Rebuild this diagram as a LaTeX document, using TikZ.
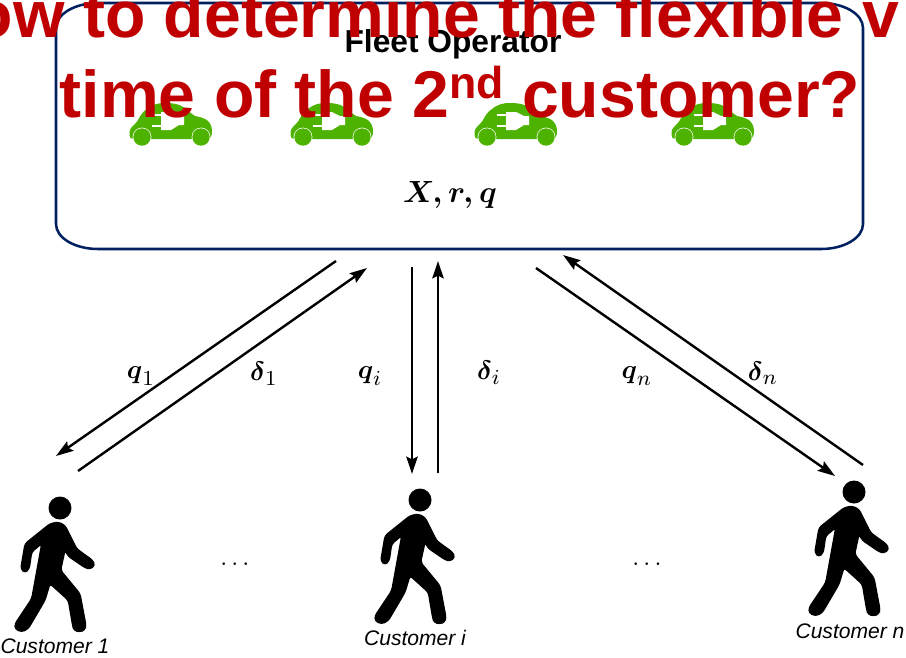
\documentclass[tikz,border=0pt]{standalone}
\usepackage{amsmath,amssymb}
\usepackage{graphicx}
\usepackage{fontspec}
\setmainfont{Liberation Sans}
\usetikzlibrary{arrows.meta}
\DeclareMathSizes{10}{10}{8}{6}
\definecolor{navy}{RGB}{0,32,96}
\definecolor{carg}{RGB}{78,178,0}
\definecolor{redt}{RGB}{192,0,0}
\newcommand{\biglab}[1]{\scalebox{2}{$#1$}}
\tikzset{
  x=0.75pt,y=-0.75pt,
  flow/.style={line width=1.8pt,-{Stealth[length=13pt,width=8.5pt,inset=2pt]}},
  lab/.style={inner sep=0pt},
  cust/.style={inner sep=0pt,font=\fontsize{15.8}{18}\selectfont\itshape},
  title/.style={inner sep=0pt,text=redt,font=\fontsize{49.6}{60}\selectfont\bfseries},
  pics/car/.style={code={
    \fill[carg] (0.5,32) .. controls (0.5,28) and (1,26) .. (2,25) .. controls (5,22) and (8,19) .. (9,17)
      .. controls (12,11) and (15,8) .. (18,6) .. controls (24,1) and (30,0) .. (36,0)
      .. controls (44,0) and (50,1) .. (54,4) .. controls (59,8) and (63,11) .. (66,13)
      .. controls (72,14) and (77,16) .. (79,18) .. controls (82,21) and (83,25) .. (83,28)
      .. controls (83,32) and (82,36) .. (79,36) -- (5,36) .. controls (2,36) and (0.5,35) .. (0.5,32) -- cycle;
    \fill[white] (32,9) -- (42,9) -- (50,13) -- (55,13) -- (55,22) -- (50,22) -- (42,27) -- (32,27) -- cycle;
    \fill[white] (23,11.2) rectangle (33,12.8) (23,22.2) rectangle (33,23.8);
    \fill[white] (13,34) circle[radius=9.4] (72,34) circle[radius=9.4];
    \fill[carg] (13,34) circle[radius=8.7] (72,34) circle[radius=8.7];
  }},
  pics/walker/.style={code={
    \fill (0,0) circle[radius=11.5];
    \filldraw[line width=0.9pt,line join=round,rounded corners=2.2pt] (-10,15.7) -- (-1.7,14) -- (5,17.3) -- (16.7,40.7) -- (32.7,52.3) -- (35,57.3) -- (30,61.3)
      -- (25,59.7) -- (8.3,48.3) -- (5,42.3) -- (0.7,62.3) -- (20,85.7) -- (26,117.3) -- (25,122) -- (20,124) -- (14,122.5) -- (12.7,118)
      -- (8.3,92.3) -- (-10,75.7) -- (-15,92.3) -- (-31.7,120.7) -- (-38.3,124) -- (-45,121) -- (-45,115.7) -- (-28.3,90.7)
      -- (-18.3,35.7) -- (-28.3,44) -- (-30.7,60.7) -- (-35,65) -- (-39.3,60.7) -- (-35,35.7) -- cycle;
  }}
}
\begin{document}
\begin{tikzpicture}
\useasboundingbox (0,0) rectangle (906,657);
\clip (0,0) rectangle (906,657);
\fill[white] (0,0) rectangle (906,657);
\draw[navy,line width=1.9pt] (98,3) -- (821,3)
  .. controls (844,3) and (863,14) .. (863,28) -- (863,224)
  .. controls (863,238) and (844,249) .. (821,249) -- (98,249)
  .. controls (75,249) and (56,238) .. (56,224) -- (56,28)
  .. controls (56,14) and (75,3) .. (98,3) -- cycle;
\node[inner sep=0pt,anchor=base,font=\fontsize{23.8}{28}\selectfont\bfseries] (fleetlabel) at (453,52) {Fleet Operator};
\pic at (129,103) {car};
\pic at (290,103) {car};
\pic at (474,103) {car};
\pic at (671,103) {car};
\node[lab] (state) at (450,195) {\scalebox{2.3}{$\boldsymbol{X,r,q}$}};

\coordinate (a1) at (336,261); \coordinate (a2) at (56,456);
\coordinate (b1) at (78,471);  \coordinate (b2) at (367,268);
\coordinate (c1) at (412,267); \coordinate (c2) at (412,474);
\coordinate (d1) at (438,473); \coordinate (d2) at (438,261);
\coordinate (e1) at (536,268); \coordinate (e2) at (835,476);
\coordinate (f1) at (863,465); \coordinate (f2) at (563,255);
\draw[flow] (a1) -- (a2);
\draw[flow] (b1) -- (b2);
\draw[flow] (c1) -- (c2);
\draw[flow] (d1) -- (d2);
\draw[flow] (e1) -- (e2);
\draw[flow] (f1) -- (f2);
\node[lab] (q1) at (141,376) {\biglab{\boldsymbol{q}_1}};
\node[lab] (d1l) at (264,374) {\biglab{\boldsymbol{\delta}_1}};
\node[lab] (qi) at (370,376) {\biglab{\boldsymbol{q}_i}};
\node[lab] (dil) at (489,373) {\biglab{\boldsymbol{\delta}_i}};
\node[lab] (qn) at (637,376) {\biglab{\boldsymbol{q}_n}};
\node[lab] (dnl) at (763,373) {\biglab{\boldsymbol{\delta}_n}};

\pic at (60,508) {walker};
\pic at (420,500) {walker};
\pic at (854,492) {walker};
\node[lab] (dots1) at (237,564) {\scalebox{1.87}{$\dots$}};
\node[lab] (dots2) at (649,564) {\scalebox{1.87}{$\dots$}};
\node[cust] (c1l) at (55,646) {Customer 1};
\node[cust] (cil) at (415,638) {Customer i};
\node[cust] (cnl) at (850,631) {Customer n};

\node[title,anchor=base] (t1) at (412,37) {How to determine the flexible v};
\node[title,anchor=base] (t2) at (460,117) {time of the 2\raisebox{14pt}{\fontsize{33.5}{36}\selectfont nd} customer?};
\end{tikzpicture}
\end{document}
